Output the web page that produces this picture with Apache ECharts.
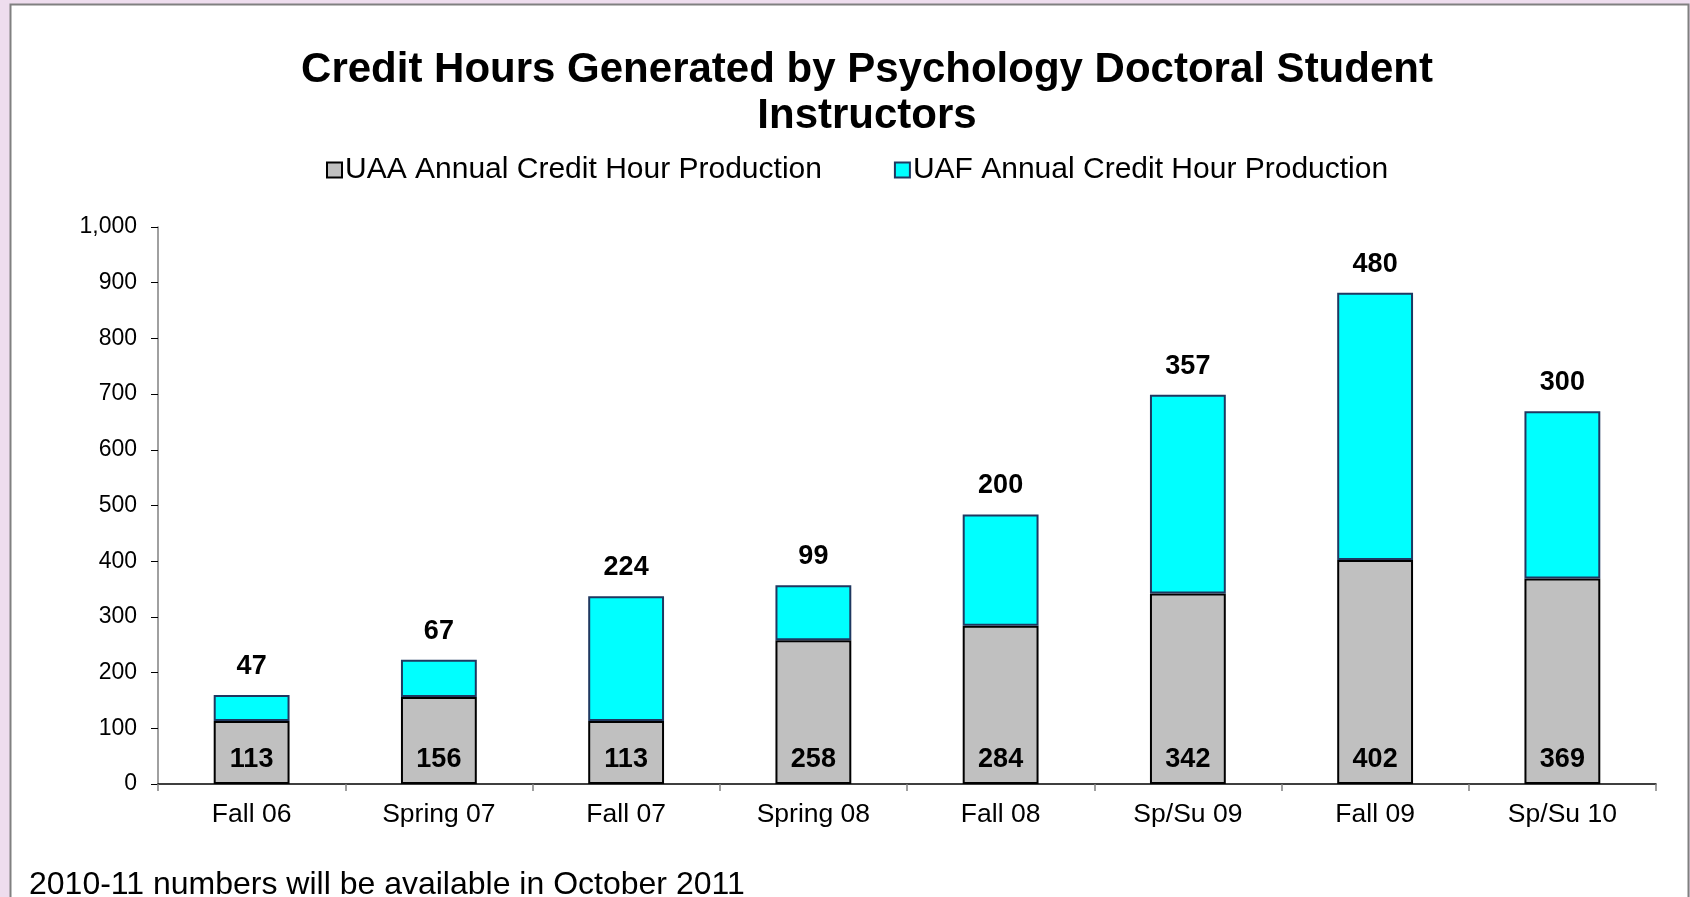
<!DOCTYPE html>
<html>
<head>
<meta charset="utf-8">
<script src="https://cdn.jsdelivr.net/npm/echarts@6/dist/echarts.min.js"></script>
<style>
  html, body { margin: 0; padding: 0; background: #EEDDEE; }
  #chart { width: 1690px; height: 897px; }
</style>
</head>
<body>
<div id="chart"></div>
<script>
const categories = ['Fall 06', 'Spring 07', 'Fall 07', 'Spring 08', 'Fall 08', 'Sp/Su 09', 'Fall 09', 'Sp/Su 10']
const uaaHours = [113, 156, 113, 258, 284, 342, 402, 369]
const uafHours = [47, 67, 224, 99, 200, 357, 480, 300]
const yTicks = [0, 100, 200, 300, 400, 500, 600, 700, 800, 900, 1000]

const FONT = '"Liberation Sans", Arial, sans-serif'

const chart = echarts.init(document.getElementById('chart'))
const option = {
  backgroundColor: '#EEDDEE',
  animation: false,
  graphic: [{
    type: 'rect',
    z: -10,
    shape: { x: 10.5, y: 4.5, width: 1678, height: 900 },
    style: { fill: '#fff', stroke: '#808080', lineWidth: 2 }
  }],
  title: {
    text: 'Credit Hours Generated by Psychology Doctoral Student\nInstructors',
    left: 862,
    top: 42,
    textAlign: 'center',
    textStyle: {
      fontFamily: FONT,
      fontSize: 42,
      fontWeight: 'bold',
      color: '#000',
      lineHeight: 46
    }
  },
  legend: {
    left: 321,
    top: 150,
    itemWidth: 15,
    itemHeight: 15,
    itemGap: 72,
    icon: 'rect',
    textStyle: { fontFamily: FONT, fontSize: 30, color: '#000', padding: [0, 0, 0, -2] },
    data: ['UAA Annual Credit Hour Production', 'UAF Annual Credit Hour Production']
  },
  grid: { left: 158, right: 34, top: 227, bottom: 113 },
  xAxis: {
    type: 'category',
    data: categories,
    axisLine: { lineStyle: { color: '#000', width: 1.5 } },
    axisTick: { show: true, length: 7, lineStyle: { color: '#808080', width: 1.5 } },
    axisLabel: { fontFamily: FONT, fontSize: 26.5, color: '#000', margin: 17 }
  },
  yAxis: {
    type: 'value',
    min: yTicks[0],
    max: yTicks[yTicks.length - 1],
    interval: 100,
    splitLine: { show: false },
    axisLine: { show: true, lineStyle: { color: '#808080', width: 1.5 } },
    axisTick: { show: true, length: 7, lineStyle: { color: '#000' } },
    axisLabel: {
      fontFamily: FONT,
      fontSize: 23,
      color: '#000',
      margin: 21,
      formatter: v => v.toLocaleString('en-US')
    }
  },
  series: [
    {
      name: 'UAA Annual Credit Hour Production',
      type: 'bar',
      stack: 'total',
      barWidth: '40.5%',
      data: uaaHours,
      itemStyle: { color: '#C0C0C0', borderColor: '#000', borderWidth: 2 },
      label: {
        show: true,
        position: 'insideBottom',
        distance: 11,
        fontFamily: FONT,
        fontSize: 27,
        fontWeight: 'bold',
        color: '#000'
      }
    },
    {
      name: 'UAF Annual Credit Hour Production',
      type: 'bar',
      stack: 'total',
      data: uafHours,
      itemStyle: { color: '#00FFFF', borderColor: '#1F3860', borderWidth: 2 },
      label: {
        show: true,
        position: 'top',
        distance: 15,
        fontFamily: FONT,
        fontSize: 27,
        fontWeight: 'bold',
        color: '#000'
      }
    }
  ]
}
chart.setOption(option)
</script>
<div style="position:absolute;left:29px;top:865px;font:32px 'Liberation Sans', Arial, sans-serif;color:#000;white-space:nowrap;">2010-11 numbers will be available in October 2011</div>
</body>
</html>
